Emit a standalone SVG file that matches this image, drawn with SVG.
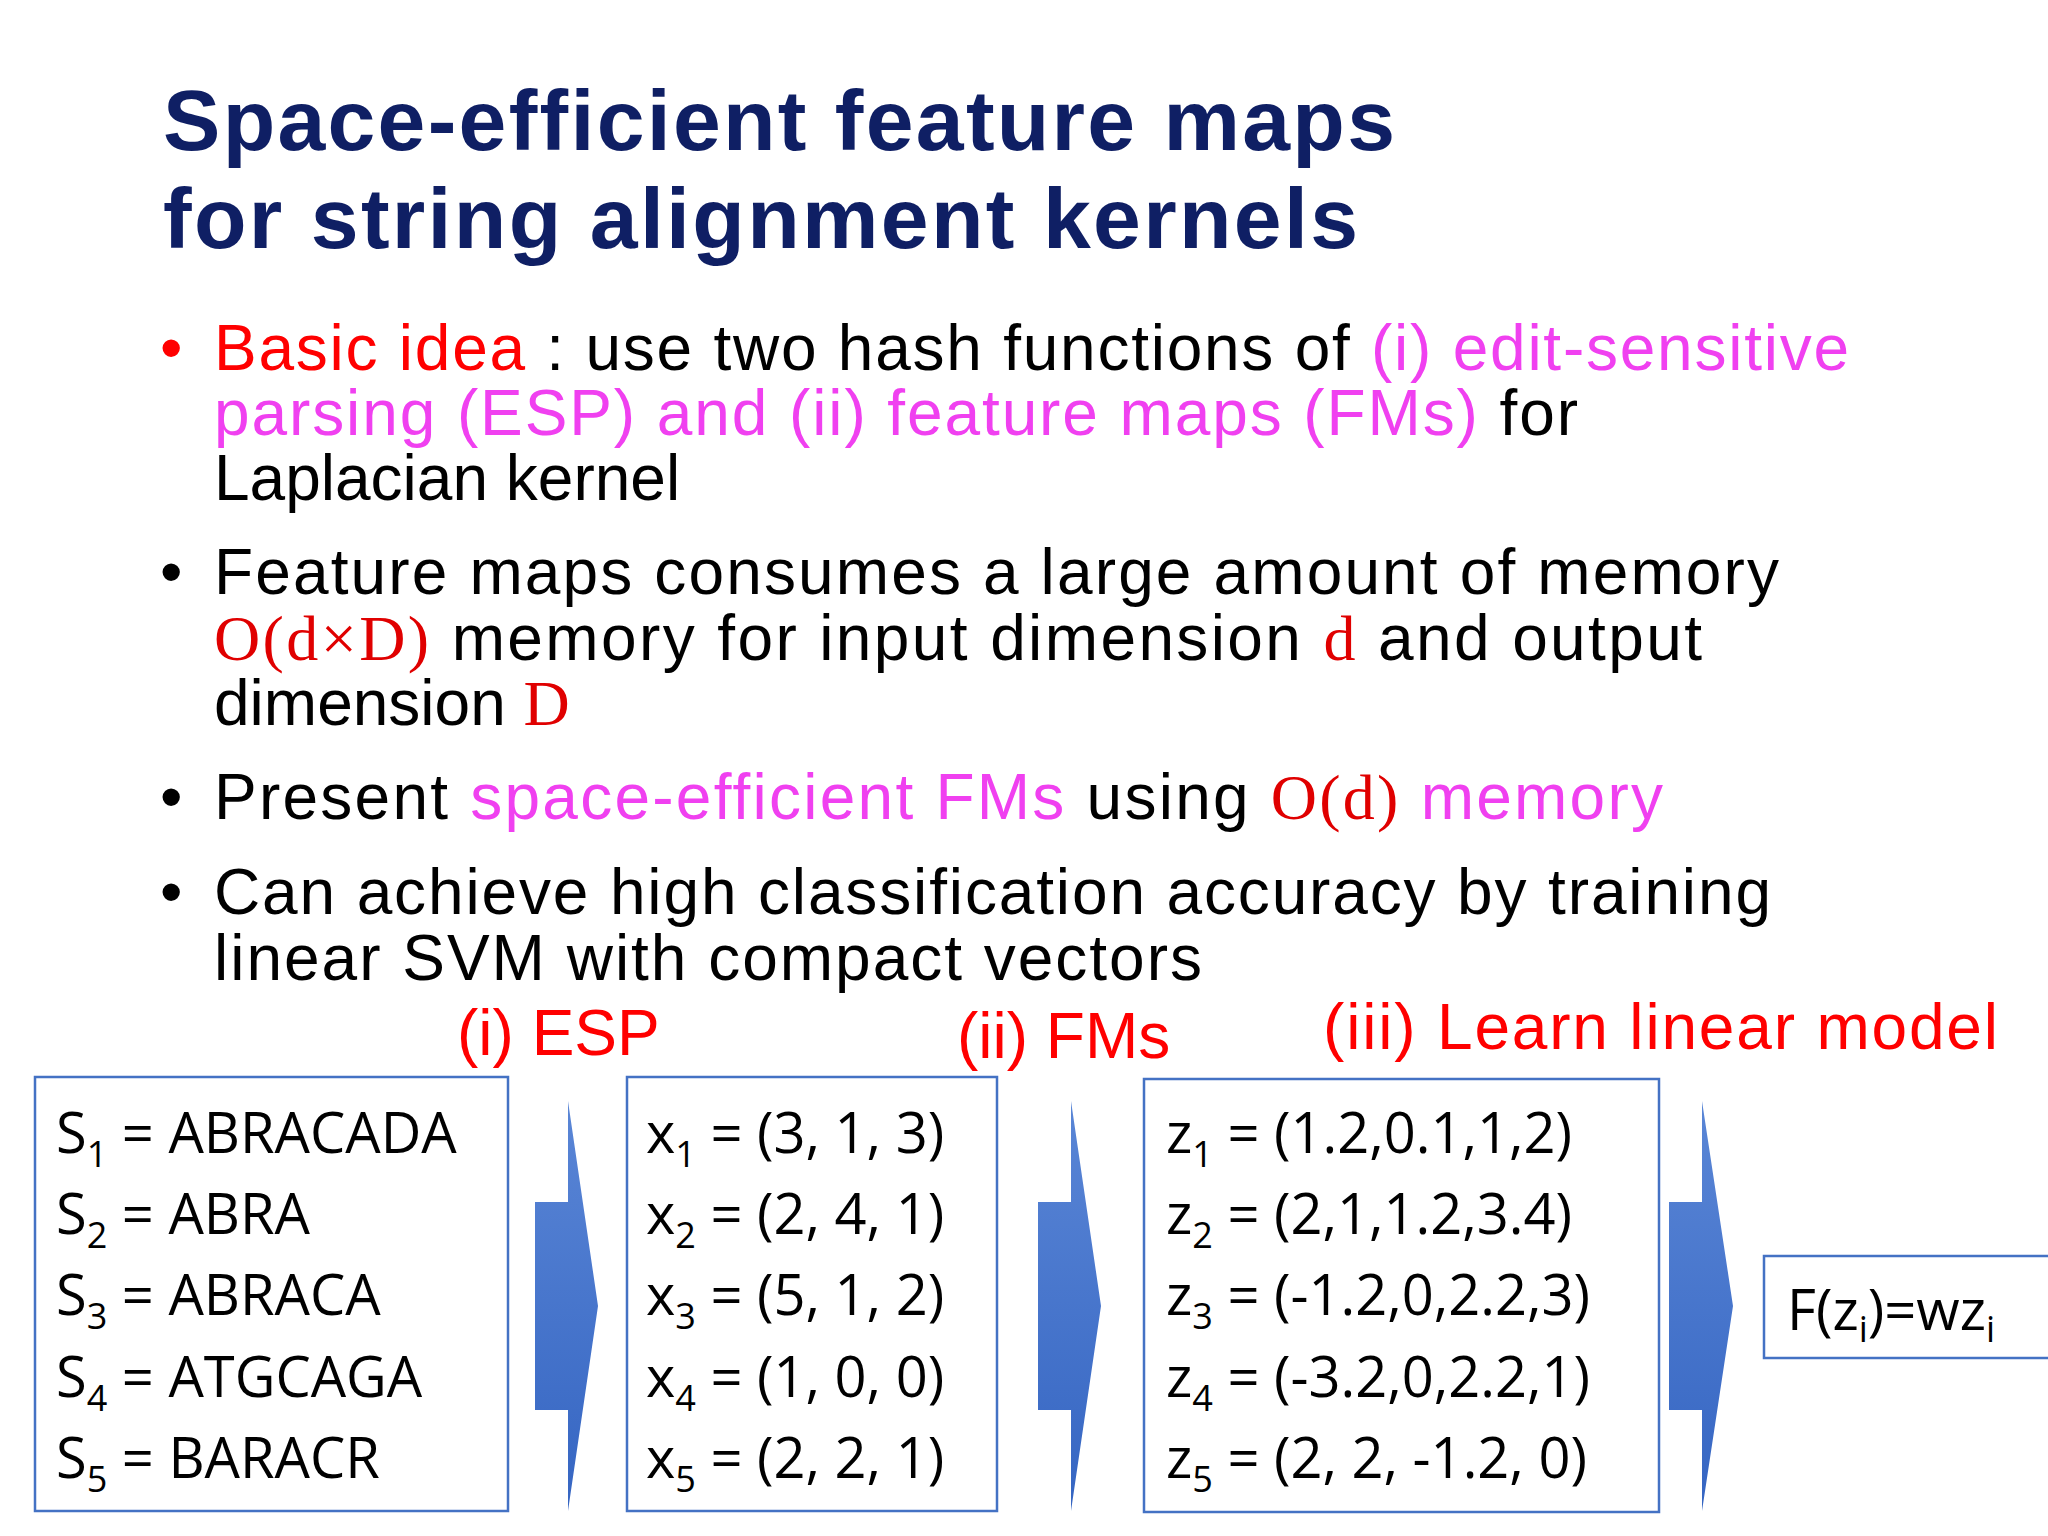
<svg xmlns="http://www.w3.org/2000/svg" width="2048" height="1536" viewBox="0 0 2048 1536">
<style>
.title{font-family:"Liberation Sans",Arial,sans-serif;font-weight:bold;font-size:86px;fill:#0f1f64}
.b{font-family:"Liberation Sans",Arial,sans-serif;font-size:64px;fill:#000}
.r{fill:#ff0000}
.m{fill:#f040f0}
.math{font-family:"Liberation Serif","DejaVu Serif",serif;fill:#e00000}
.step{font-family:"Liberation Sans",Arial,sans-serif;font-size:64px;fill:#ff0000}
.bx{fill:#fff;stroke:#4472c4;stroke-width:2.5}
.t{font-family:"Open Sans","Liberation Sans",sans-serif;font-size:56px;fill:#000}
.s{font-size:36px}
.arr{fill:url(#g)}
</style>
<defs>
<linearGradient id="g" x1="0" y1="0" x2="0" y2="1">
<stop offset="0" stop-color="#5a86d6"/><stop offset="1" stop-color="#3565c2"/>
</linearGradient>
</defs>
<rect width="2048" height="1536" fill="#fff"/>
<g id="title">
<text class="title" x="163" y="150" textLength="1232">Space-efficient feature maps</text>
<text class="title" x="163" y="248" textLength="1195">for string alignment kernels</text>
</g>
<g id="bullets" class="b">
<text x="160" y="370" class="r">•</text>
<text x="214" y="370" textLength="1635"><tspan class="r">Basic idea</tspan> : use two hash functions of <tspan class="m">(i) edit-sensitive</tspan></text>
<text x="214" y="435" textLength="1364"><tspan class="m">parsing (ESP) and (ii) feature maps (FMs)</tspan> for</text>
<text x="214" y="500">Laplacian kernel</text>
<text x="160" y="594">•</text>
<text x="214" y="594" textLength="1565">Feature maps consumes a large amount of memory</text>
<text x="214" y="660" textLength="1488"><tspan class="math">O(d×D)</tspan> memory for input dimension <tspan class="math">d</tspan> and output</text>
<text x="214" y="725">dimension <tspan class="math">D</tspan></text>
<text x="160" y="819">•</text>
<text x="214" y="819" textLength="1449">Present <tspan class="m">space-efficient FMs</tspan> using <tspan class="math">O(d)</tspan> <tspan class="m">memory</tspan></text>
<text x="160" y="914">•</text>
<text x="214" y="914" textLength="1557">Can achieve high classification accuracy by training</text>
<text x="214" y="980" textLength="988">linear SVM with compact vectors</text>
</g>
<g id="steps" class="step">
<text x="457" y="1055">(i) ESP</text>
<text x="957" y="1058">(ii) FMs</text>
<text x="1323" y="1049" textLength="675">(iii) Learn linear model</text>
</g>
<g id="connectors">
<polygon class="arr" points="535,1202 568,1202 568,1101 598,1306 568,1511 568,1410 535,1410"/>
<polygon class="arr" points="1038,1202 1071,1202 1071,1101 1101,1306 1071,1511 1071,1410 1038,1410"/>
<polygon class="arr" points="1669,1202 1702,1202 1702,1101 1733,1306 1702,1511 1702,1410 1669,1410"/>
</g>
<g id="strings">
<rect class="bx" x="35" y="1077" width="473" height="434"/>
<g class="t">
<text x="56" y="1153">S<tspan class="s" dy="14">1</tspan><tspan dy="-14"> = ABRACADA</tspan></text>
<text x="56" y="1234">S<tspan class="s" dy="14">2</tspan><tspan dy="-14"> = ABRA</tspan></text>
<text x="56" y="1315">S<tspan class="s" dy="14">3</tspan><tspan dy="-14"> = ABRACA</tspan></text>
<text x="56" y="1397">S<tspan class="s" dy="14">4</tspan><tspan dy="-14"> = ATGCAGA</tspan></text>
<text x="56" y="1478">S<tspan class="s" dy="14">5</tspan><tspan dy="-14"> = BARACR</tspan></text>
</g>
</g>
<g id="esp">
<rect class="bx" x="627" y="1077" width="370" height="434"/>
<g class="t">
<text x="646" y="1153">x<tspan class="s" dy="14">1</tspan><tspan dy="-14"> = (3, 1, 3)</tspan></text>
<text x="646" y="1234">x<tspan class="s" dy="14">2</tspan><tspan dy="-14"> = (2, 4, 1)</tspan></text>
<text x="646" y="1315">x<tspan class="s" dy="14">3</tspan><tspan dy="-14"> = (5, 1, 2)</tspan></text>
<text x="646" y="1397">x<tspan class="s" dy="14">4</tspan><tspan dy="-14"> = (1, 0, 0)</tspan></text>
<text x="646" y="1478">x<tspan class="s" dy="14">5</tspan><tspan dy="-14"> = (2, 2, 1)</tspan></text>
</g>
</g>
<g id="fms">
<rect class="bx" x="1144" y="1079" width="515" height="433"/>
<g class="t">
<text x="1166" y="1153">z<tspan class="s" dy="14">1</tspan><tspan dy="-14"> = (1.2,0.1,1,2)</tspan></text>
<text x="1166" y="1234">z<tspan class="s" dy="14">2</tspan><tspan dy="-14"> = (2,1,1.2,3.4)</tspan></text>
<text x="1166" y="1315">z<tspan class="s" dy="14">3</tspan><tspan dy="-14"> = (-1.2,0,2.2,3)</tspan></text>
<text x="1166" y="1397">z<tspan class="s" dy="14">4</tspan><tspan dy="-14"> = (-3.2,0,2.2,1)</tspan></text>
<text x="1166" y="1478">z<tspan class="s" dy="14">5</tspan><tspan dy="-14"> = (2, 2, -1.2, 0)</tspan></text>
</g>
</g>
<g id="model">
<rect class="bx" x="1764" y="1256" width="290" height="102"/>
<text class="t" x="1787" y="1330">F(z<tspan class="s" dy="12">i</tspan><tspan dy="-12">)=wz</tspan><tspan class="s" dy="12">i</tspan></text>
</g>
</svg>
